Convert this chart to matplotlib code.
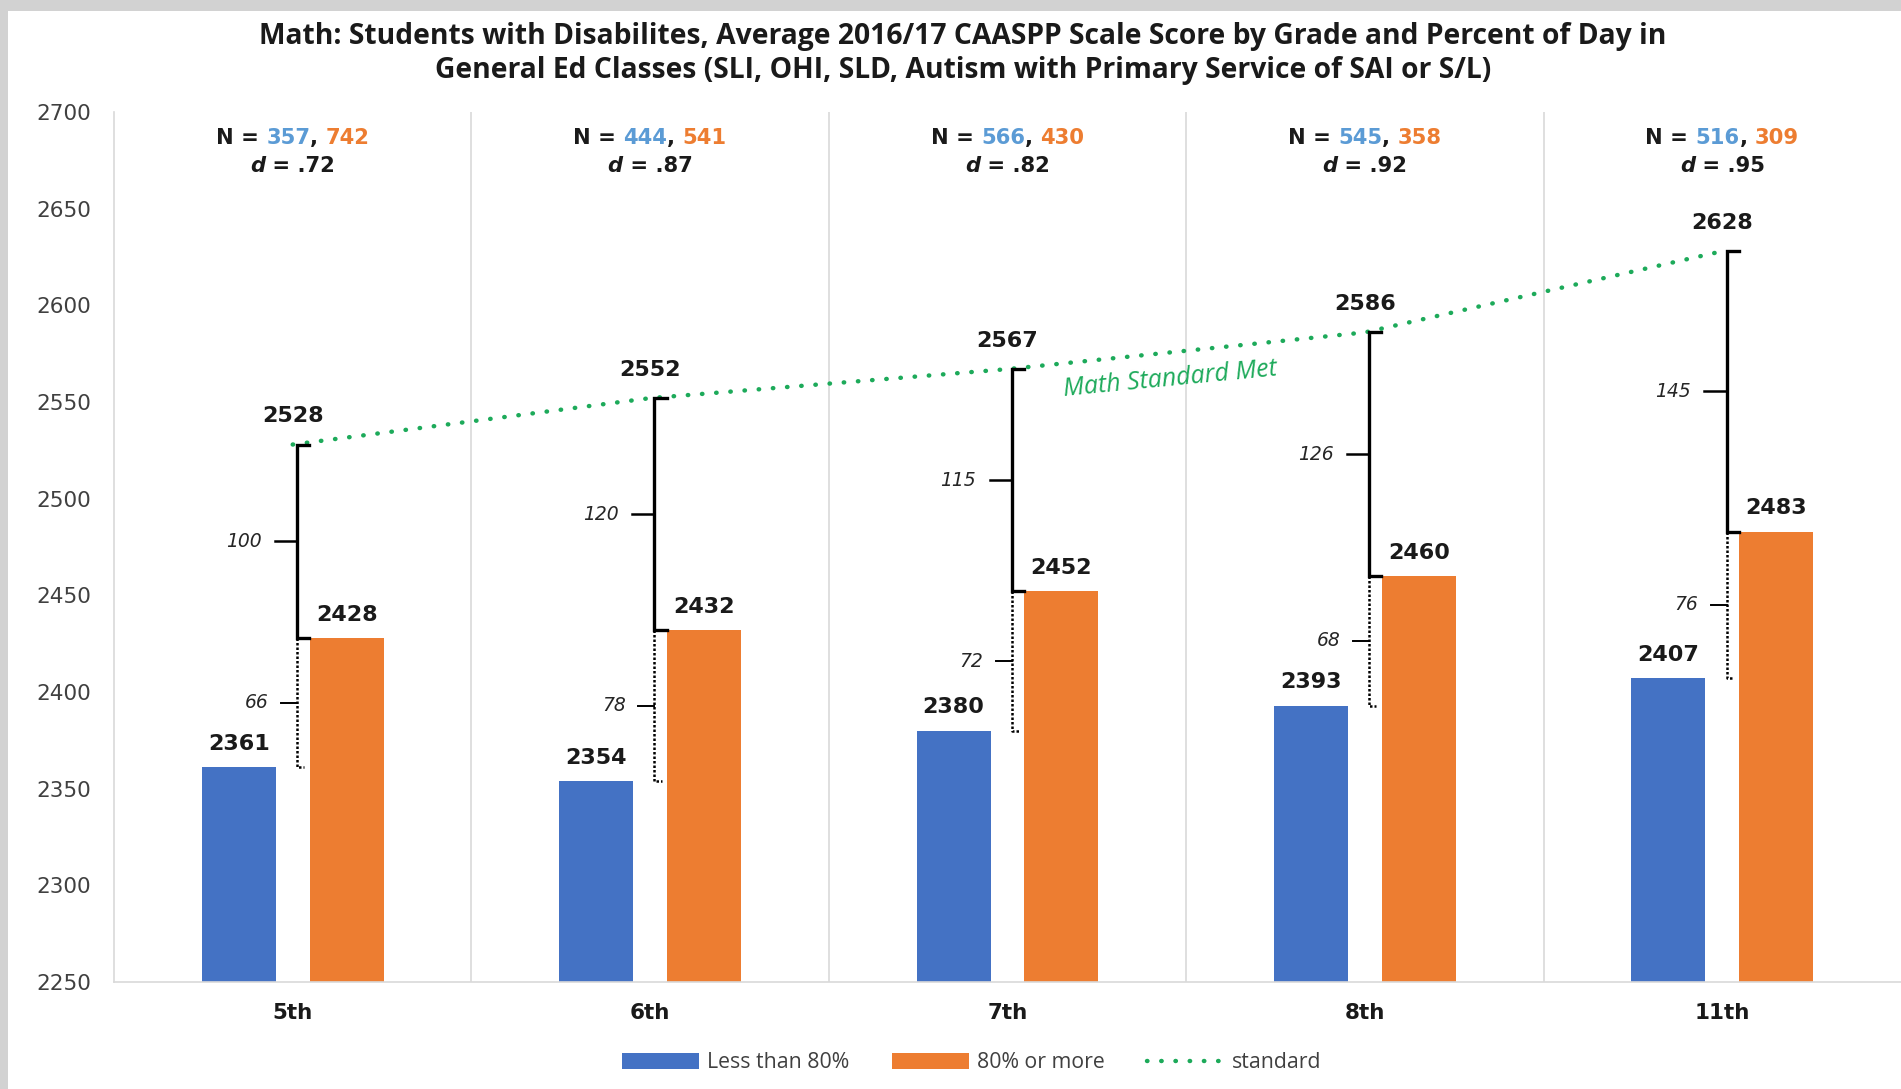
import numpy as np
import matplotlib.pyplot as plt
from matplotlib.patches import Rectangle
from matplotlib.offsetbox import TextArea, HPacker, AnnotationBbox

# data
grades = ["5th", "6th", "7th", "8th", "11th"]
less80 = [2361, 2354, 2380, 2393, 2407]
more80 = [2428, 2432, 2452, 2460, 2483]
standard = [2528, 2552, 2567, 2586, 2628]
gap_std = [100, 120, 115, 126, 145]
gap_grp = [66, 78, 72, 68, 76]
n_less = [357, 444, 566, 545, 516]
n_more = [742, 541, 430, 358, 309]
d_vals = [".72", ".87", ".82", ".92", ".95"]
yticks = [2250, 2300, 2350, 2400, 2450, 2500, 2550, 2600, 2650, 2700]

BLUE = "#4472C4"
ORANGE = "#ED7D31"
GREEN = "#1DAA5A"
NBLUE = "#5B9BD5"
DARK = "#1a1a1a"

fig = plt.figure(figsize=(19.01, 10.89), dpi=100, facecolor="#d2d2d2")
fig.patches.append(Rectangle((8/1901, 0), 1, 1-11/1089, transform=fig.transFigure,
                             facecolor="white", edgecolor="none", zorder=-10))
ax = fig.add_axes([114/1901, 1-982/1089, 1-114/1901, 870/1089])
ax.set_zorder(1)

x = np.arange(len(grades))
w = 0.207
off = 0.151
b1 = ax.bar(x-off, less80, w, color=BLUE, label="Less than 80%", zorder=2)
b2 = ax.bar(x+off, more80, w, color=ORANGE, label="80% or more", zorder=2)
ln, = ax.plot(x, standard, color=GREEN, lw=3.2, dashes=(0.1, 3.1), dash_capstyle="round",
              label="standard", zorder=3)

# value labels
for i in range(len(grades)):
    ax.text(x[i]-off, less80[i]+12, str(less80[i]), ha="center", va="center",
            fontsize=16, fontweight="bold", color=DARK)
    ax.text(x[i]+off, more80[i]+12, str(more80[i]), ha="center", va="center",
            fontsize=16, fontweight="bold", color=DARK)
    ax.text(x[i], standard[i]+14.5, str(standard[i]), ha="center", va="center",
            fontsize=16, fontweight="bold", color=DARK)

# brackets
for i in range(len(grades)):
    bx = x[i] + 0.012
    s = 0.034
    top, mid_o, bot = standard[i], more80[i], less80[i]
    ax.plot([bx+s, bx, bx, bx+s], [top, top, mid_o, mid_o], color="black", lw=2.4,
            solid_joinstyle="miter", zorder=4)
    m1 = (top+mid_o)/2
    ax.plot([bx-0.062, bx], [m1, m1], color="black", lw=1.8, zorder=4)
    ax.text(bx-0.1, m1, str(gap_std[i]), ha="right", va="center", fontsize=13.5,
            style="italic", color="#262626")
    ax.plot([bx, bx, bx+s*0.6], [mid_o, bot, bot], color="black", lw=1.8,
            linestyle=(0, (1, 0.8)), zorder=4)
    m2 = (mid_o+bot)/2
    ax.plot([bx-0.045, bx], [m2, m2], color="black", lw=1.4, zorder=4)
    ax.text(bx-0.08, m2, str(gap_grp[i]), ha="right", va="center", fontsize=13.5,
            style="italic", color="#262626")

# N and d annotations
for i in range(len(grades)):
    kw = dict(fontsize=15.2, fontweight="bold")
    row = HPacker(children=[
        TextArea("N = ", textprops=dict(color=DARK, **kw)),
        TextArea(str(n_less[i]), textprops=dict(color=NBLUE, **kw)),
        TextArea(", ", textprops=dict(color=DARK, **kw)),
        TextArea(str(n_more[i]), textprops=dict(color=ORANGE, **kw)),
    ], sep=0, pad=0, align="baseline")
    ax.add_artist(AnnotationBbox(row, (x[i], 2686.5), frameon=False, box_alignment=(0.5, 0.5),
                                 annotation_clip=False))
    drow = HPacker(children=[
        TextArea("d", textprops=dict(color=DARK, style="italic", **kw)),
        TextArea(" = " + d_vals[i], textprops=dict(color=DARK, **kw)),
    ], sep=0, pad=0, align="baseline")
    ax.add_artist(AnnotationBbox(drow, (x[i], 2672), frameon=False, box_alignment=(0.5, 0.5),
                                 annotation_clip=False))

ax.text(2.455, 2562, "Math Standard Met", ha="center", va="center", rotation=5.5,
        fontsize=18, style="italic", color=GREEN, family="Open Sans")

ax.set_xlim(-0.5, len(grades)-0.5)
ax.set_ylim(2250, 2700)
ax.set_yticks(yticks)
ax.set_yticklabels([str(t) for t in yticks], fontsize=15.5, color="#404040")
ax.set_xticks(x)
ax.set_xticklabels(grades, fontsize=15.5, fontweight="bold", color=DARK)
ax.tick_params(axis="y", length=0, pad=16.5)
ax.tick_params(axis="x", length=0, pad=15)
for b in np.arange(0.5, len(grades)-0.5, 1):
    ax.axvline(b, color="#d9d9d9", lw=1.2, zorder=1)
for sp in ["top", "right"]:
    ax.spines[sp].set_visible(False)
for sp in ["left", "bottom"]:
    ax.spines[sp].set_color("#d9d9d9")
    ax.spines[sp].set_linewidth(1.2)

fig.text(963/1901, 1-53.5/1089,
         "Math: Students with Disabilites, Average 2016/17 CAASPP Scale Score by Grade and Percent of Day in\n"
         "General Ed Classes (SLI, OHI, SLD, Autism with Primary Service of SAI or S/L)",
         ha="center", va="center", fontsize=20.3, fontweight="bold", family="Open Sans",
         color=DARK, linespacing=1.2)

fig.legend([b1, b2, ln], ["Less than 80%", "80% or more", "standard"], loc="center",
           bbox_to_anchor=(972/1901, 1-1063/1089), ncol=3, frameon=False,
           prop=dict(family="Open Sans", size=15.3), handlelength=3.6, handleheight=0.75,
           handletextpad=0.4, columnspacing=2.0, labelcolor="#404040")

fig.savefig("out.png", dpi=100, facecolor=fig.get_facecolor())
